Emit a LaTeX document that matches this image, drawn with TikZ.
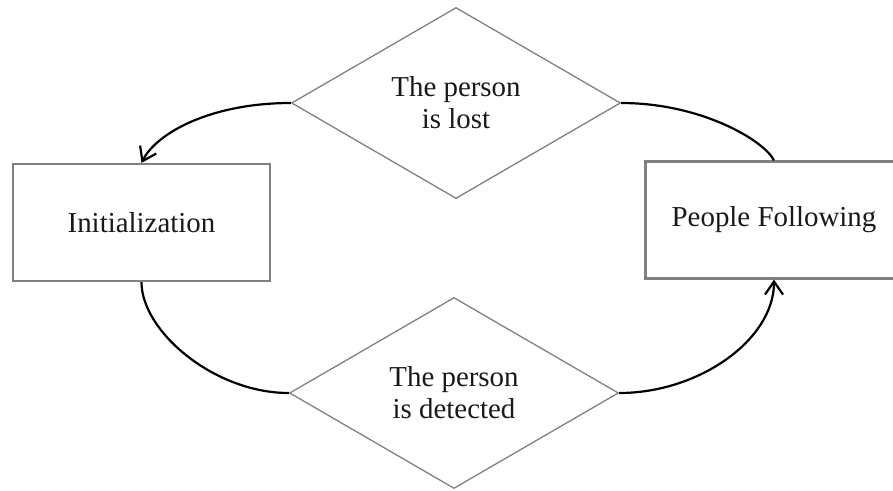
\documentclass[tikz,border=0pt]{standalone}
\usepackage{fontspec}
\setmainfont{Liberation Serif}
\usetikzlibrary{shapes.geometric,arrows.meta}

\begin{document}
\begin{tikzpicture}[x=1pt,y=-1pt,
  every node/.style={font=\fontsize{28.9}{32}\selectfont, text=black!90},
  statebox/.style={draw=black!50, line width=2.2pt, rectangle,
    minimum width=257pt, minimum height=117pt, inner sep=0pt},
  decision/.style={draw=black!50, line width=1.3pt, diamond, align=center,
    minimum width=329pt, minimum height=191pt, inner sep=0pt},
  flow/.style={draw=black, line width=2.2pt},
  flowarrow/.style={flow, -{Straight Barb[length=13pt,width=18pt]}}
]
  \useasboundingbox (0,0) rectangle (893,490);
  \clip (0,0) rectangle (893,490);

  % states
  \node[statebox] (init)   at (141.5,222.5) {Initialization};
  \node[statebox] (follow) at (774,220)     {People Following};

  % conditions
  \node[decision] (lost)   at (456,103) {The person\\is lost};
  \node[decision] (detect) at (454,393) {The person\\is detected};

  % transitions
  \draw[flowarrow] (lost.west) .. controls +(-80,0) and +(15,-30) .. (init.north);
  \draw[flow] (follow.north) .. controls +(-10,-20) and +(80,0) .. (lost.east);
  \draw[flow] (init.south) .. controls +(0,49) and +(-75,0) .. (detect.west);
  \draw[flowarrow] (detect.east) .. controls +(80,0) and +(0,60) .. (follow.south);
\end{tikzpicture}
\end{document}
